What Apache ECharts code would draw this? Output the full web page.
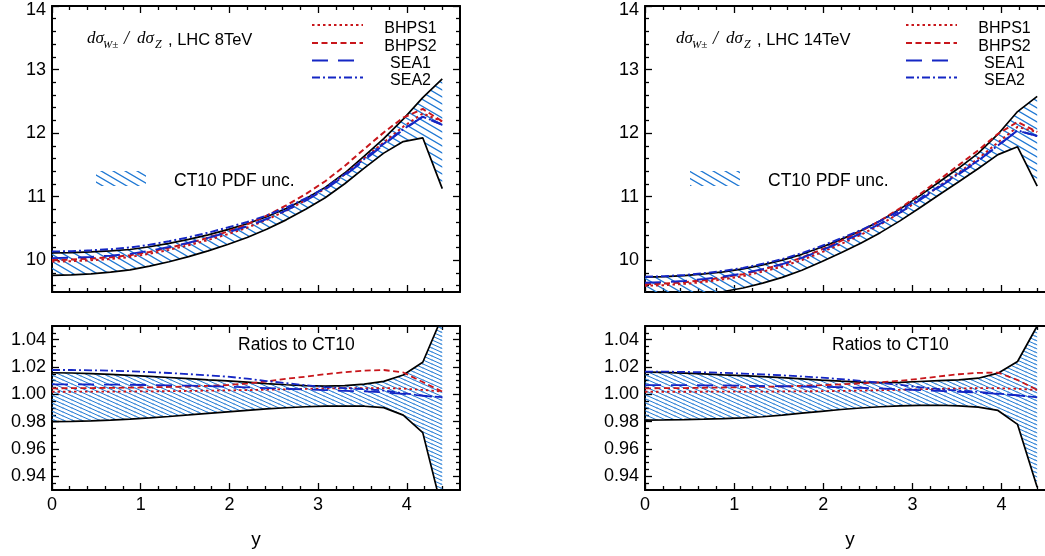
<!DOCTYPE html>
<html><head><meta charset="utf-8">
<script src="https://cdn.jsdelivr.net/npm/echarts@6/dist/echarts.min.js"></script>
<style>html,body{margin:0;padding:0;background:#fff}#c{width:1045px;height:556px}</style>
</head><body><div id="c"></div>
<script>
// ---------------- data ----------------
const Y_GRID = [0, 0.22, 0.44, 0.66, 0.88, 1.1, 1.32, 1.54, 1.76, 1.98, 2.2, 2.42, 2.64, 2.86, 3.08, 3.3, 3.52, 3.74, 3.96, 4.18, 4.4];

// LHC 8 TeV, dsigma_W / dsigma_Z
const CT10_UP_8 = [10.117, 10.120, 10.132, 10.146, 10.169, 10.212, 10.265, 10.327, 10.399, 10.482, 10.573, 10.684, 10.815, 10.969, 11.146, 11.372, 11.637, 11.912, 12.22, 12.558, 12.853];
const CT10_LO_8 = [9.761, 9.768, 9.786, 9.812, 9.848, 9.907, 9.976, 10.056, 10.147, 10.247, 10.357, 10.487, 10.635, 10.801, 10.984, 11.203, 11.45, 11.685, 11.867, 11.926, 11.126];
const BHPS1_8 = [9.979, 9.984, 10.0, 10.02, 10.051, 10.102, 10.163, 10.236, 10.318, 10.41, 10.512, 10.636, 10.78, 10.944, 11.128, 11.351, 11.603, 11.854, 12.101, 12.309, 12.184];
const BHPS2_8 = [10.004, 10.01, 10.026, 10.047, 10.079, 10.131, 10.195, 10.268, 10.354, 10.451, 10.563, 10.701, 10.862, 11.041, 11.243, 11.483, 11.75, 12.01, 12.243, 12.38, 12.184];
const SEA1_8 = [10.033, 10.038, 10.052, 10.071, 10.1, 10.149, 10.207, 10.274, 10.352, 10.438, 10.533, 10.649, 10.784, 10.939, 11.114, 11.329, 11.574, 11.818, 12.054, 12.258, 12.13];
const SEA2_8 = [10.137, 10.142, 10.156, 10.173, 10.2, 10.244, 10.298, 10.361, 10.433, 10.514, 10.601, 10.703, 10.828, 10.972, 11.139, 11.351, 11.593, 11.833, 12.06, 12.258, 12.136];

// LHC 8 TeV, ratios to CT10
const R_UP_8 = [1.0158, 1.0156, 1.0152, 1.0146, 1.0139, 1.0131, 1.0123, 1.0115, 1.0106, 1.0098, 1.0089, 1.0079, 1.0070, 1.0063, 1.006, 1.0064, 1.0075, 1.0095, 1.0141, 1.0235, 1.057];
const R_LO_8 = [0.980, 0.9802, 0.9806, 0.9812, 0.9819, 0.9828, 0.9838, 0.9849, 0.9861, 0.9872, 0.9883, 0.9893, 0.9902, 0.9909, 0.9913, 0.9914, 0.9913, 0.9903, 0.9848, 0.972, 0.915];
const R_BHPS1_8 = [1.0019, 1.0019, 1.002, 1.002, 1.0021, 1.0022, 1.0023, 1.0025, 1.0027, 1.0029, 1.0031, 1.0034, 1.0037, 1.004, 1.0043, 1.0045, 1.0046, 1.0046, 1.0042, 1.0032, 1.002];
const R_BHPS2_8 = [1.0044, 1.0045, 1.0046, 1.0047, 1.0049, 1.0051, 1.0054, 1.0057, 1.0062, 1.0068, 1.0079, 1.0095, 1.0114, 1.0129, 1.0147, 1.0162, 1.0173, 1.0178, 1.016, 1.009, 1.002];
const R_SEA1_8 = [1.0073, 1.0073, 1.0072, 1.0071, 1.007, 1.0068, 1.0066, 1.0063, 1.006, 1.0056, 1.0051, 1.0046, 1.0041, 1.0036, 1.0031, 1.0026, 1.0021, 1.0015, 1.0003, 0.999, 0.9975];
const R_SEA2_8 = [1.0178, 1.0178, 1.0176, 1.0173, 1.0169, 1.0163, 1.0156, 1.0148, 1.0139, 1.0129, 1.0115, 1.0097, 1.0082, 1.0066, 1.0053, 1.0045, 1.0037, 1.0028, 1.0008, 0.999, 0.998];

// LHC 14 TeV, dsigma_W / dsigma_Z
const CT10_UP_14 = [9.735, 9.743, 9.759, 9.785, 9.818, 9.863, 9.927, 10.001, 10.093, 10.205, 10.328, 10.462, 10.62, 10.804, 11.013, 11.231, 11.45, 11.686, 11.983, 12.339, 12.579];
const CT10_LO_14 = [9.4, 9.411, 9.432, 9.465, 9.508, 9.563, 9.639, 9.73, 9.842, 9.975, 10.116, 10.266, 10.434, 10.619, 10.822, 11.031, 11.235, 11.443, 11.661, 11.785, 11.165];
const BHPS1_14 = [9.598, 9.608, 9.628, 9.658, 9.699, 9.749, 9.82, 9.901, 10.002, 10.123, 10.256, 10.398, 10.562, 10.745, 10.95, 11.164, 11.379, 11.602, 11.853, 12.098, 12.018];
const BHPS2_14 = [9.622, 9.633, 9.654, 9.686, 9.728, 9.781, 9.854, 9.937, 10.042, 10.168, 10.305, 10.453, 10.623, 10.816, 11.034, 11.266, 11.497, 11.731, 11.988, 12.177, 12.018];
const SEA1_14 = [9.645, 9.655, 9.674, 9.704, 9.743, 9.791, 9.86, 9.938, 10.037, 10.156, 10.283, 10.42, 10.575, 10.75, 10.944, 11.148, 11.352, 11.565, 11.804, 12.04, 11.954];
const SEA2_14 = [9.739, 9.749, 9.768, 9.795, 9.832, 9.878, 9.943, 10.017, 10.111, 10.223, 10.344, 10.472, 10.618, 10.784, 10.967, 11.162, 11.361, 11.571, 11.806, 12.042, 11.954];

// LHC 14 TeV, ratios to CT10
const R_UP_14 = [1.0162, 1.016, 1.0155, 1.015, 1.0143, 1.0137, 1.013, 1.0122, 1.0113, 1.0104, 1.0096, 1.0089, 1.0085, 1.0088, 1.0094, 1.01, 1.0106, 1.0118, 1.0155, 1.024, 1.05];
const R_LO_14 = [0.9812, 0.9813, 0.9815, 0.9818, 0.9822, 0.9828, 0.9836, 0.9848, 0.9862, 0.9876, 0.9889, 0.99, 0.9909, 0.9915, 0.9919, 0.992, 0.9916, 0.9907, 0.9882, 0.978, 0.932];
const R_BHPS1_14 = [1.0019, 1.0019, 1.0019, 1.0019, 1.002, 1.002, 1.002, 1.0021, 1.0022, 1.0023, 1.0025, 1.0027, 1.003, 1.0033, 1.0037, 1.004, 1.0043, 1.0045, 1.0045, 1.004, 1.0032];
const R_BHPS2_14 = [1.0044, 1.0045, 1.0046, 1.0048, 1.005, 1.0052, 1.0055, 1.0058, 1.0062, 1.0067, 1.0073, 1.008, 1.0088, 1.0099, 1.0114, 1.0131, 1.0147, 1.0157, 1.0159, 1.0105, 1.0032];
const R_SEA1_14 = [1.0068, 1.0068, 1.0067, 1.0066, 1.0065, 1.0063, 1.0061, 1.0059, 1.0057, 1.0055, 1.0052, 1.0048, 1.0043, 1.0037, 1.0031, 1.0025, 1.0019, 1.0013, 1.0003, 0.9992, 0.9978];
const R_SEA2_14 = [1.0166, 1.0166, 1.0164, 1.0161, 1.0157, 1.0152, 1.0146, 1.0139, 1.0131, 1.0122, 1.0111, 1.0098, 1.0084, 1.0069, 1.0052, 1.0038, 1.0027, 1.0018, 1.0005, 0.9993, 0.9978];

// tick labels
const X_TICKS = [0, 1, 2, 3, 4];
const Y_TOP_TICKS = [10, 11, 12, 13, 14];
const Y_BOT_TICKS = [0.94, 0.96, 0.98, 1.00, 1.02, 1.04];
const LEGEND_NAMES = ['BHPS1', 'BHPS2', 'SEA1', 'SEA2'];

// ---------------- styling ----------------
const FONT = '"Liberation Sans", Arial, Helvetica, sans-serif';
const SERIF = '"Liberation Serif", "Times New Roman", serif';
const RED = '#c8161b', BLUE = '#1426c4', HATCH = '#1f78d4';

function rnd(v) { return Math.round(v * 100000) / 100000; }
const X_MINOR = []; for (let k = 1; k < 23; k++) if (k % 5) X_MINOR.push(rnd(k * 0.2));
const Y_TOP_MINOR = []; for (let k = 48; k < 70; k++) if (k % 5) Y_TOP_MINOR.push(rnd(k * 0.2));
const Y_BOT_MINOR = []; for (let k = 187; k < 210; k++) if (k % 4) Y_BOT_MINOR.push(rnd(k * 0.005));
const Y_TOP_MAX = Y_TOP_TICKS[Y_TOP_TICKS.length - 1];

function makeHatch(w, h, lw) {
  const c = document.createElement('canvas'); c.width = w; c.height = h;
  const ctx = c.getContext('2d'); ctx.strokeStyle = HATCH; ctx.lineWidth = lw;
  ctx.beginPath();
  [[0, 0], [-w, 0], [w, 0], [0, -h], [0, h]].forEach(([ox, oy]) => {
    ctx.moveTo(ox - w * 0.5, oy - h * 0.5); ctx.lineTo(ox + w * 1.5, oy + h * 1.5);
  });
  ctx.stroke();
  return { image: c, repeat: 'repeat' };
}
const HATCH_TOP = makeHatch(12, 7, 1.3);
const HATCH_BOT = makeHatch(9, 4, 1.0);

const STY = {
  BHPS1: { color: RED, width: 2, type: [2.5, 3] },
  BHPS2: { color: RED, width: 2, type: [6, 3.5] },
  SEA1: { color: BLUE, width: 2, type: [16, 10] },
  SEA2: { color: BLUE, width: 2, type: [8, 3, 2, 3] }
};

const GRIDS = [
  { left: 52, top: 6, width: 408, height: 286 },
  { left: 52, top: 326, width: 408, height: 164 },
  { left: 645, top: 6, width: 410, height: 286 },
  { left: 645, top: 326, width: 410, height: 164 }
];

function axis(gi, pos, min, max, ticks, len, line, labels, fmt, extra) {
  return Object.assign({
    type: 'value', gridIndex: gi, position: pos, min: min, max: max,
    splitLine: { show: false }, minorTick: { show: false },
    axisLine: { show: line, onZero: false, lineStyle: { color: '#000', width: 2 } },
    axisTick: { show: true, inside: true, length: len, customValues: ticks, lineStyle: { color: '#000', width: 1.3 } },
    axisLabel: labels ? { show: true, customValues: labels, fontSize: 18, color: '#000', fontFamily: FONT, margin: 6, formatter: fmt } : { show: false }
  }, extra || {});
}

const xAxes = [], yAxes = [];
GRIDS.forEach((g, gi) => {
  const bottom = gi % 2 === 1;
  const xName = bottom ? { name: 'y', nameLocation: 'middle', nameGap: 40, nameTextStyle: { fontSize: 19, color: '#000', fontFamily: FONT } } : {};
  xAxes.push(axis(gi, 'bottom', 0, 4.6, X_TICKS, 7, true, bottom ? X_TICKS : null, v => String(v), xName));
  xAxes.push(axis(gi, 'bottom', 0, 4.6, X_MINOR, 4, false, null));
  xAxes.push(axis(gi, 'top', 0, 4.6, X_TICKS, 7, true, null));
  xAxes.push(axis(gi, 'top', 0, 4.6, X_MINOR, 4, false, null));
  const ymin = bottom ? 0.93 : 9.5, ymax = bottom ? 1.05 : 14;
  const maj = bottom ? Y_BOT_TICKS : Y_TOP_TICKS, mino = bottom ? Y_BOT_MINOR : Y_TOP_MINOR;
  // the top-most label of the upper panels is drawn separately (it sits slightly below its tick)
  const labs = bottom ? Y_BOT_TICKS : Y_TOP_TICKS.filter(v => v !== Y_TOP_MAX);
  const fmt = bottom ? (v => v.toFixed(2)) : (v => String(v));
  yAxes.push(axis(gi, 'left', ymin, ymax, maj, 7, true, labs, fmt));
  yAxes.push(axis(gi, 'left', ymin, ymax, mino, 4, false, null));
  yAxes.push(axis(gi, 'right', ymin, ymax, maj, 7, true, null));
  yAxes.push(axis(gi, 'right', ymin, ymax, mino, 4, false, null));
});

function pairs(ys) { return Y_GRID.map((x, i) => [x, ys[i]]); }
function lineS(gi, ys, style, z) {
  return { type: 'line', xAxisIndex: 4 * gi, yAxisIndex: 4 * gi, data: pairs(ys), symbol: 'none', showSymbol: false,
    lineStyle: style, z: z, silent: true, clip: true, animation: false };
}
function bandS(gi, up, lo, pattern) {
  return { type: 'custom', xAxisIndex: 4 * gi, yAxisIndex: 4 * gi, clip: true, silent: true, z: 1, animation: false,
    data: [[Y_GRID[0], up[0]]],
    renderItem: function (params, api) {
      const pts = [];
      for (let i = 0; i < Y_GRID.length; i++) pts.push(api.coord([Y_GRID[i], up[i]]));
      for (let i = Y_GRID.length - 1; i >= 0; i--) pts.push(api.coord([Y_GRID[i], lo[i]]));
      return { type: 'polygon', shape: { points: pts }, style: { fill: pattern, stroke: null } };
    } };
}
function panel(gi, up, lo, b1, b2, s1, s2, pattern, lw) {
  const st = k => Object.assign({}, STY[k], { width: lw });
  return [
    bandS(gi, up, lo, pattern),
    lineS(gi, up, { color: '#000', width: 1.7 }, 3),
    lineS(gi, lo, { color: '#000', width: 1.7 }, 3),
    lineS(gi, b1, st('BHPS1'), 4),
    lineS(gi, b2, st('BHPS2'), 4),
    lineS(gi, s1, st('SEA1'), 4),
    lineS(gi, s2, st('SEA2'), 4)
  ];
}
const series = [].concat(
  panel(0, CT10_UP_8, CT10_LO_8, BHPS1_8, BHPS2_8, SEA1_8, SEA2_8, HATCH_TOP, 2),
  panel(1, R_UP_8, R_LO_8, R_BHPS1_8, R_BHPS2_8, R_SEA1_8, R_SEA2_8, HATCH_BOT, 1.8),
  panel(2, CT10_UP_14, CT10_LO_14, BHPS1_14, BHPS2_14, SEA1_14, SEA2_14, HATCH_TOP, 2),
  panel(3, R_UP_14, R_LO_14, R_BHPS1_14, R_BHPS2_14, R_SEA1_14, R_SEA2_14, HATCH_BOT, 1.8)
);

// ---------------- annotations ----------------
function txt(x, y, s, font, align) {
  return { type: 'text', x: x, y: y, silent: true, z: 10,
    style: { text: s, font: font, fill: '#000', align: align || 'left', verticalAlign: 'middle',
      textAlign: align || 'left', textVerticalAlign: 'middle' } };
}
const graphics = [];
[{ dx: 0, tx: 87, energy: 'LHC 8TeV' }, { dx: 594, tx: 676, energy: 'LHC 14TeV' }].forEach(p => {
  // title  dσ_{W±}/dσ_Z
  graphics.push(txt(p.tx, 39, 'dσ', 'italic 17px ' + SERIF));
  graphics.push(txt(p.tx + 16, 45, 'W±', 'italic 11px ' + SERIF));
  graphics.push(txt(p.tx + 37, 39, '/', 'italic 18px ' + SERIF));
  graphics.push(txt(p.tx + 50, 39, 'dσ', 'italic 17px ' + SERIF));
  graphics.push(txt(p.tx + 68, 45, 'Z', 'italic 12px ' + SERIF));
  graphics.push(txt(p.tx + 81, 40, ', ' + p.energy, '16.5px ' + FONT));
  // legend
  const ys = [25, 43, 60.5, 77.5];
  LEGEND_NAMES.forEach((n, i) => {
    const s = STY[n];
    graphics.push({ type: 'line', silent: true, z: 10, shape: { x1: 312 + p.dx, y1: ys[i], x2: 363 + p.dx, y2: ys[i] },
      style: { stroke: s.color, lineWidth: 2, lineDash: s.type } });
    graphics.push(txt(410.5 + p.dx, ys[i] + 3.5, n, '16px ' + FONT, 'center'));
  });
  // CT10 band legend
  graphics.push({ type: 'rect', silent: true, z: 10, shape: { x: 96 + p.dx, y: 171, width: 50, height: 15 }, style: { fill: HATCH_TOP } });
  graphics.push(txt(174 + p.dx, 181, 'CT10 PDF unc.', '17.5px ' + FONT));
  graphics.push(txt(238 + p.dx, 345, 'Ratios to CT10', '17.5px ' + FONT));
});

const chart = echarts.init(document.getElementById('c'), null, { renderer: 'canvas' });
chart.setOption({
  animation: false,
  backgroundColor: '#fff',
  grid: GRIDS.map(g => Object.assign({ containLabel: false, outerBoundsMode: 'none' }, g)),
  xAxis: xAxes,
  yAxis: yAxes,
  series: series,
  graphic: graphics
});
// top-most y label of each upper panel, placed just inside the frame as in the original
[0, 2].forEach(gi => {
  const yIdx = 4 * gi;
  const py = chart.convertToPixel({ yAxisIndex: yIdx }, Y_TOP_MAX);
  graphics.push(txt(GRIDS[gi].left - 6, py + 4, String(Y_TOP_MAX), '18px ' + FONT, 'right'));
});
chart.setOption({ graphic: graphics });
</script></body></html>
